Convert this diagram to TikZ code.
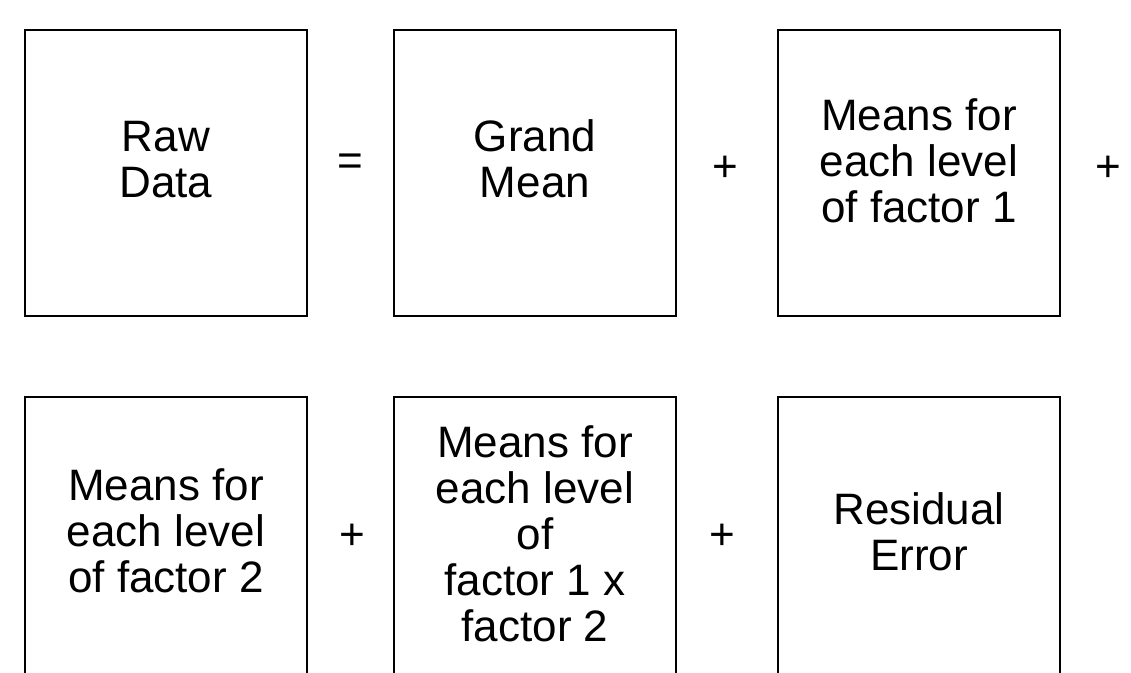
\documentclass[tikz,border=0pt]{standalone}
\usepackage{fontspec}
\setmainfont{Liberation Sans}
\tikzset{
  termbox/.style={draw=black, line width=2.5pt, minimum width=282pt, minimum height=286pt, inner sep=0pt},
  termtext/.style={anchor=base, inner sep=0pt, font=\fontsize{44}{46}\selectfont},
  opsym/.style={inner sep=0pt, font=\fontsize{44}{46}\selectfont}
}
\newcommand{\boxlines}[1]{\parbox[t]{270pt}{\centering #1}}
\begin{document}
\begin{tikzpicture}[x=1pt,y=-1pt]
\useasboundingbox (0,0) rectangle (1131,672);
% boxes
\node[termbox] (b1) at (166,173) {};
\node[termbox] (b2) at (535,173) {};
\node[termbox] (b3) at (919,173) {};
\node[termbox] (b4) at (166,540) {};
\node[termbox] (b5) at (535,540) {};
\node[termbox] (b6) at (919,540) {};
% texts
\node[termtext] (t1) at (166,151) {\boxlines{Raw\\Data}};
\node[termtext] (t2) at (535,151) {\boxlines{Grand\\Mean}};
\node[termtext] (t3) at (919,130) {\boxlines{Means for\\each level\\of factor 1}};
\node[termtext] (t4) at (166,500) {\boxlines{Means for\\each level\\of factor 2}};
\node[termtext] (t5) at (535,457) {\boxlines{Means for\\each level\\of\\factor 1 x\\factor 2}};
\node[termtext] (t6) at (919,524) {\boxlines{Residual\\Error}};
% operators
\node[opsym] (eq) at (350,165) {=};
\node[opsym] (p1) at (725,169) {+};
\node[opsym] (p2) at (1108,169) {+};
\node[opsym] (p3) at (352,537) {+};
\node[opsym] (p4) at (722,537) {+};
\end{tikzpicture}
\end{document}
